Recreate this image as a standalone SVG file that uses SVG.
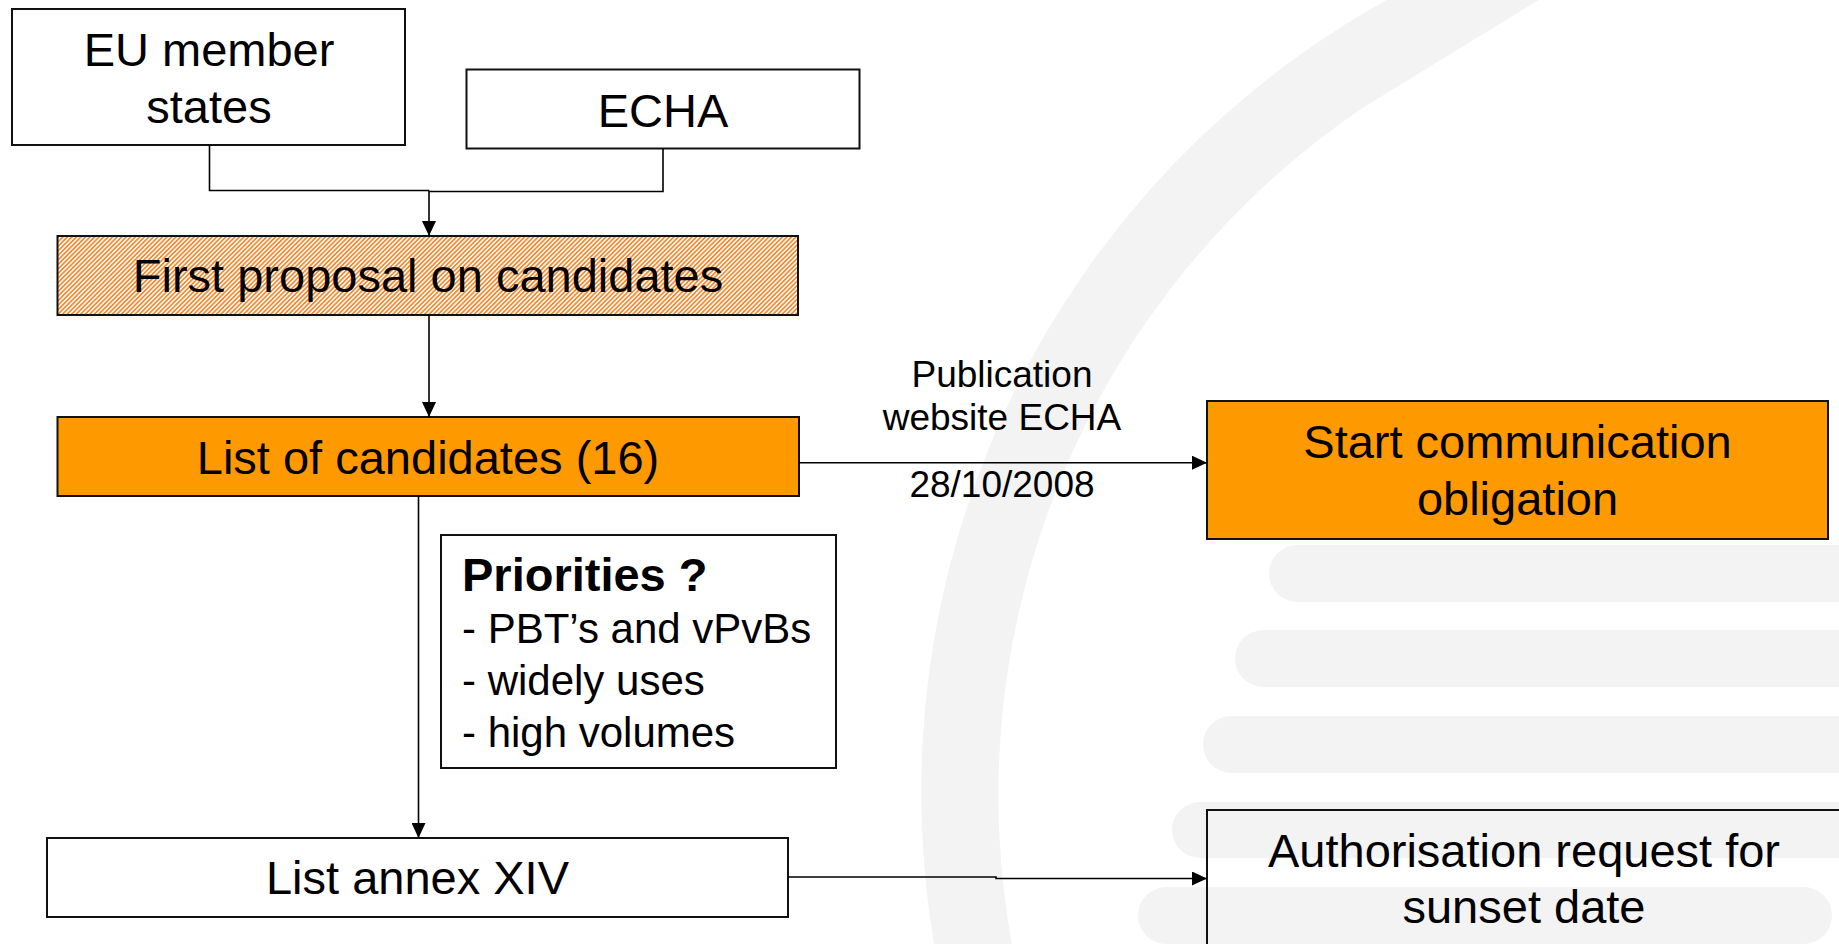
<svg xmlns="http://www.w3.org/2000/svg" width="1839" height="944" viewBox="0 0 1839 944">
<defs>
<style>
.box{stroke:#111;stroke-width:2}
.w{fill:#fff}
.o{fill:#FF9900}
.n{fill:none}
.h{fill:url(#hatch)}
.t{font-family:"Liberation Sans",Arial,sans-serif;font-size:47px;fill:#000;text-anchor:middle}
.s{font-family:"Liberation Sans",Arial,sans-serif;font-size:37px;fill:#000;text-anchor:middle}
.p{font-family:"Liberation Sans",Arial,sans-serif;font-size:42px;fill:#000}
.pb{font-weight:bold;font-size:47px}
.c{fill:none;stroke:#000;stroke-width:1.6}
.a{marker-end:url(#arr)}
.bg{fill:#f3f3f3}
</style>
<pattern id="hatch" width="3.2" height="3.2" patternUnits="userSpaceOnUse" patternTransform="rotate(45)">
<rect width="3.2" height="3.2" fill="#fff"/>
<rect width="1.7" height="3.2" fill="#F5892F"/>
</pattern>
<marker id="arr" viewBox="0 0 15 14" refX="15" refY="7" markerWidth="15" markerHeight="14" orient="auto" markerUnits="userSpaceOnUse"><path d="M0,0 L15,7 L0,14 z" fill="#000"/></marker>
</defs>
<rect width="1839" height="944" fill="#fff"/>
<g id="background">
<path class="bg" d="M1405,-10 A906,906 0 0 0 937,960 L1015,960 A830,830 0 0 1 1364,107 L1555,-10 Z"/>
<rect class="bg" x="1269" y="545" width="700" height="57" rx="28.5"/>
<rect class="bg" x="1235" y="630" width="700" height="57" rx="28.5"/>
<rect class="bg" x="1203" y="716" width="700" height="57" rx="28.5"/>
<rect class="bg" x="1172" y="802" width="750" height="56" rx="28"/>
<rect class="bg" x="1138" y="887" width="694" height="57" rx="28.5"/>
</g>
<g id="eu-member-states">
<rect class="box w" x="12" y="9" width="393" height="136"/>
<text class="t" x="209" y="66">EU member</text>
<text class="t" x="209" y="123">states</text>
</g>
<g id="echa">
<rect class="box w" x="466.5" y="69.5" width="393" height="79"/>
<text class="t" x="663" y="127">ECHA</text>
</g>
<g id="first-proposal">
<rect class="box h" x="57.5" y="236" width="740.5" height="79"/>
<text class="t" x="428" y="292">First proposal on candidates</text>
</g>
<g id="list-of-candidates">
<rect class="box o" x="57.5" y="417" width="741.5" height="79"/>
<text class="t" x="428" y="474">List of candidates (16)</text>
</g>
<g id="priorities">
<rect class="box w" x="441" y="535" width="395" height="233"/>
<text class="p" x="462" y="591"><tspan class="pb">Priorities ?</tspan><tspan x="462" y="643">- PBT’s and vPvBs</tspan><tspan x="462" y="695">- widely uses</tspan><tspan x="462" y="747">- high volumes</tspan></text>
</g>
<g id="list-annex-xiv">
<rect class="box w" x="47" y="838" width="741" height="79"/>
<text class="t" x="417.5" y="894">List annex XIV</text>
</g>
<g id="start-communication">
<rect class="box o" x="1207" y="401" width="621" height="138"/>
<text class="t" x="1517.5" y="458">Start communication</text>
<text class="t" x="1517.5" y="515">obligation</text>
</g>
<g id="authorisation-request">
<rect class="box n" x="1207" y="810" width="640" height="160"/>
<text class="t" x="1524" y="867">Authorisation request for</text>
<text class="t" x="1524" y="923">sunset date</text>
</g>
<g id="connectors">
<path class="c" d="M209.5,145 V190.5 H429"/>
<path class="c" d="M663,148.5 V191.5 H429"/>
<path class="c a" d="M429,190.5 V236"/>
<path class="c a" d="M429,315 V417"/>
<path class="c a" d="M799,462.7 H1207"/>
<path class="c a" d="M418.5,496 V838"/>
<path class="c a" d="M788,877 H996 V878.5 H1207"/>
<g id="publication-label">
<text class="s" x="1002" y="387">Publication</text>
<text class="s" x="1002" y="430">website ECHA</text>
<text class="s" x="1002" y="497">28/10/2008</text>
</g>
</g>
</svg>
